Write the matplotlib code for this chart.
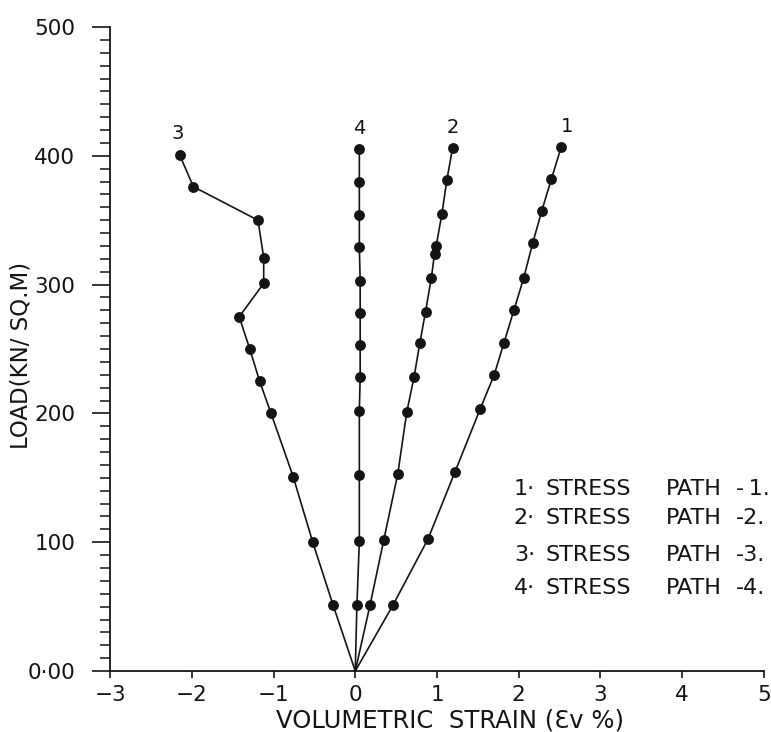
import matplotlib
matplotlib.use("Agg")
import matplotlib.pyplot as plt
from matplotlib.ticker import MultipleLocator, FixedLocator, FixedFormatter

# Volumetric strain (%) and load (kN/sq.m) for each stress path
path1_strain = [0.0, 0.46, 0.89, 1.22, 1.53, 1.70, 1.82, 1.94, 2.06, 2.17, 2.28, 2.40, 2.52]
path1_load = [0, 51, 102.5, 154.6, 203.7, 230, 255, 280, 305, 332, 357, 382, 407]

path2_strain = [0.0, 0.18, 0.35, 0.52, 0.63, 0.72, 0.79, 0.86, 0.93, 0.97, 0.99, 1.06, 1.12, 1.19]
path2_load = [0, 51, 102, 153, 201, 228.5, 254.7, 279, 305, 324, 330, 355, 381, 406]

path3_strain = [0.0, -0.27, -0.52, -0.76, -1.03, -1.17, -1.29, -1.42, -1.12, -1.12, -1.19, -1.98, -2.15]
path3_load = [0, 51, 100, 151, 200, 225, 250, 275, 301, 321, 350, 376, 401]

path4_strain = [0.0, 0.02, 0.05, 0.05, 0.05, 0.06, 0.06, 0.06, 0.06, 0.05, 0.05, 0.05, 0.05]
path4_load = [0, 51, 101, 152, 202, 228, 253, 278, 303, 329, 354, 380, 405]

path_names = ["1", "2", "3", "4"]
legend_numbers = ["1·", "2·", "3·", "4·"]
legend_words = ["STRESS", "PATH"]
legend_suffix = ["-\u20091.", "-2.", "-3.", "-4."]

x_ticks = [-3, -2, -1, 0, 1, 2, 3, 4, 5]
x_ticklabels = ["\u22123", "\u22122", "\u22121", "0", "1", "2", "3", "4", "5"]
y_ticks = [0, 100, 200, 300, 400, 500]
y_ticklabels = ["0·00", "100", "200", "300", "400", "500"]

ink = "#141414"
plt.rcParams["font.family"] = ["DejaVu Sans"]

fig = plt.figure(figsize=(7.71, 7.32), dpi=100)
ax = fig.add_axes([0.1427, 0.0833, 0.8482, 0.8798])

series = [
    (path1_strain, path1_load),
    (path2_strain, path2_load),
    (path3_strain, path3_load),
    (path4_strain, path4_load),
]
label_offsets = [(4, 8), (0, 8), (-1, 8), (0, 8)]

for (xs, ys), name, off in zip(series, path_names, label_offsets):
    ax.plot(xs, ys, color=ink, lw=1.2, marker="o", ms=6.8,
            markevery=list(range(1, len(xs))), zorder=3)
    ax.annotate(name, (xs[-1], ys[-1]), xytext=off, textcoords="offset points",
                ha="center", va="bottom", fontsize=14, color=ink)

ax.set_xlim(-3, 5)
ax.set_ylim(0, 500)

for side in ("top", "right"):
    ax.spines[side].set_visible(False)
for side in ("left", "bottom"):
    ax.spines[side].set_linewidth(1.3)
    ax.spines[side].set_color(ink)

ax.xaxis.set_major_locator(FixedLocator(x_ticks))
ax.xaxis.set_major_formatter(FixedFormatter(x_ticklabels))
ax.yaxis.set_major_locator(FixedLocator(y_ticks))
ax.yaxis.set_major_formatter(FixedFormatter(y_ticklabels))
ax.yaxis.set_minor_locator(MultipleLocator(10))

ax.tick_params(axis="x", which="major", direction="out", length=5, width=1.2,
               pad=5, labelsize=15.5, colors=ink)
ax.tick_params(axis="y", which="major", direction="out", length=13, width=1.2,
               pad=12, labelsize=15.5, colors=ink)
ax.tick_params(axis="y", which="minor", direction="out", length=7, width=1.1,
               colors=ink)

ax.set_xlabel("VOLUMETRIC  STRAIN (\u0190v %)", fontsize=17.5, color=ink)
ax.xaxis.set_label_coords(0.52, -0.058)
ax.set_ylabel("LOAD(KN/ SQ.M)", fontsize=16.5, color=ink)
ax.yaxis.set_label_coords(-0.118, 0.49)

legend_rows = [141, 119, 90, 64.6]
for num, suf, yrow in zip(legend_numbers, legend_suffix, legend_rows):
    ax.text(1.94, yrow, num, fontsize=16, color=ink, va="center", ha="left")
    ax.text(2.33, yrow, legend_words[0], fontsize=16, color=ink, va="center", ha="left")
    ax.text(3.80, yrow, legend_words[1], fontsize=16, color=ink, va="center", ha="left")
    ax.text(4.66, yrow, suf, fontsize=16, color=ink, va="center", ha="left")

fig.savefig("out.png", dpi=100, facecolor="white")
